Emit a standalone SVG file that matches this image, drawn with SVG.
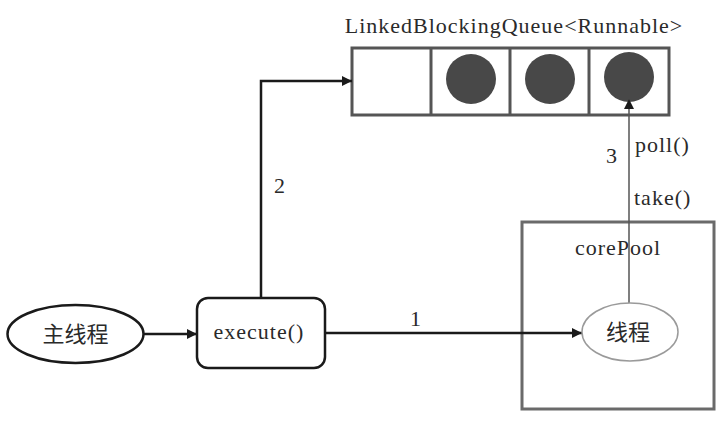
<svg xmlns="http://www.w3.org/2000/svg" width="728" height="427" viewBox="0 0 728 427">
<defs>
<marker id="ah" viewBox="0 0 10 10" refX="10" refY="5" markerWidth="10" markerHeight="10" markerUnits="userSpaceOnUse" orient="auto"><path d="M0,0 L10,5 L0,10 z" fill="#1a1a1a"/></marker>
<marker id="ah2" viewBox="0 0 10 10" refX="10" refY="5" markerWidth="10" markerHeight="10" markerUnits="userSpaceOnUse" orient="auto"><path d="M0,0 L10,5 L0,10 z" fill="#1a1a1a"/></marker>
<style>
text{font-family:"Liberation Serif","Noto Sans CJK SC",serif;fill:#2a2a2a;}
.t{font-size:22px;letter-spacing:1px;}
.c{font-size:22px;}
.cell{fill:#fff;stroke:#555;stroke-width:3;}
.dot{fill:#484848;}
.edge{fill:none;stroke:#1a1a1a;stroke-width:2.5;}
</style>
</defs>
<rect width="728" height="427" fill="#fff"/>
<g id="queue">
<text class="t" x="514" y="33" text-anchor="middle">LinkedBlockingQueue&lt;Runnable&gt;</text>
<rect class="cell" x="352" y="48" width="317" height="67"/>
<line x1="431" y1="48" x2="431" y2="115" stroke="#555" stroke-width="3"/>
<line x1="510" y1="48" x2="510" y2="115" stroke="#555" stroke-width="3"/>
<line x1="589" y1="48" x2="589" y2="115" stroke="#555" stroke-width="3"/>
<circle class="dot" cx="471" cy="79" r="25"/>
<circle class="dot" cx="550" cy="79" r="25"/>
<circle class="dot" cx="629" cy="77" r="25"/>
</g>
<g id="corePool">
<rect x="522" y="222" width="192" height="187" fill="none" stroke="#6a6a6a" stroke-width="3"/>
<text class="t" x="618" y="255" text-anchor="middle">corePool</text>
</g>
<g id="connectors">
<line class="edge" x1="144" y1="334" x2="197" y2="334" marker-end="url(#ah)"/>
<polyline class="edge" points="261,298 261,81 352,81" marker-end="url(#ah)"/>
<line class="edge" x1="325" y1="333" x2="582" y2="333" marker-end="url(#ah)"/>
<line x1="629" y1="303" x2="629" y2="99" stroke="#555" stroke-width="1.5" marker-end="url(#ah2)"/>
<text class="t" x="280" y="193" text-anchor="middle">2</text>
<text class="t" x="416" y="326" text-anchor="middle">1</text>
<text class="t" x="612" y="163" text-anchor="middle">3</text>
<text class="t" x="635" y="152">poll()</text>
<text class="t" x="634" y="205">take()</text>
</g>
<g id="main">
<ellipse cx="75.5" cy="334" rx="68" ry="29" fill="#fff" stroke="#1a1a1a" stroke-width="2.5"/>
<text class="c" x="75.5" y="342" text-anchor="middle">主线程</text>
</g>
<g id="execute">
<rect x="197" y="298" width="128" height="70" rx="11" fill="#fff" stroke="#1a1a1a" stroke-width="2.5"/>
<text class="t" x="259" y="339" text-anchor="middle">execute()</text>
</g>
<g id="thread">
<ellipse cx="630" cy="332" rx="48" ry="29" fill="#fff" stroke="#9a9a9a" stroke-width="1.5"/>
<text class="c" x="628" y="340" text-anchor="middle">线程</text>
</g>
</svg>
